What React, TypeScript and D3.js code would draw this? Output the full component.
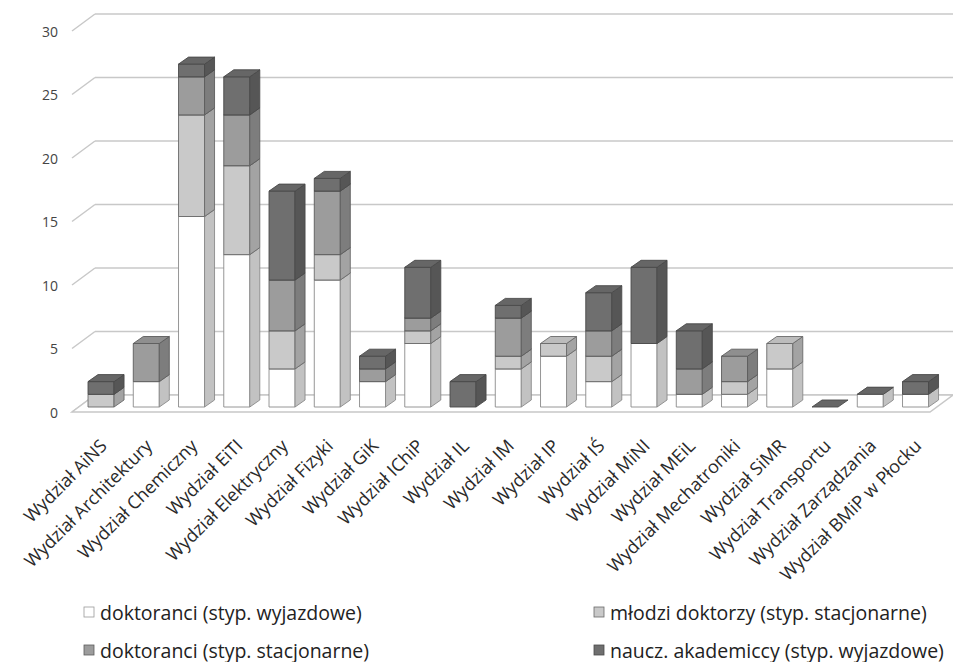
import React from "react";
import * as d3 from "d3";

const categories = [
  "Wydział AiNS", "Wydział Architektury", "Wydział Chemiczny", "Wydział EiTI",
  "Wydział Elektryczny", "Wydział Fizyki", "Wydział GiK", "Wydział IChiP",
  "Wydział IL", "Wydział IM", "Wydział IP", "Wydział IŚ", "Wydział MiNI",
  "Wydział MEiL", "Wydział Mechatroniki", "Wydział SiMR", "Wydział Transportu",
  "Wydział Zarządzania", "Wydział BMiP w Płocku",
];

const doktoranciWyjazdowe: (number | null)[] = [null, 2, 15, 12, 3, 10, 2, 5, null, 3, 4, 2, 5, 1, 1, 3, null, 1, 1];
const mlodziDoktorzyStacjonarne: (number | null)[] = [1, null, 8, 7, 3, 2, null, 1, null, 1, 1, 2, null, null, 1, 2, null, null, null];
const doktoranciStacjonarne: (number | null)[] = [null, 3, 3, 4, 4, 5, 1, 1, null, 3, null, 2, null, 2, 2, null, null, null, null];
const nauczycieleWyjazdowe: (number | null)[] = [1, null, 1, 3, 7, 1, 1, 4, 2, 1, null, 3, 6, 3, null, null, 0, 0, 1];

const seriesNames = [
  "doktoranci (styp. wyjazdowe)",
  "młodzi doktorzy (styp. stacjonarne)",
  "doktoranci (styp. stacjonarne)",
  "naucz. akademiccy (styp. wyjazdowe)",
];
const yTicks = [0, 5, 10, 15, 20, 25, 30];

const seriesValues = [doktoranciWyjazdowe, mlodziDoktorzyStacjonarne, doktoranciStacjonarne, nauczycieleWyjazdowe];

const palette = [
  { front: "#ffffff", side: "#c2c2c2", top: "#f0f0f0", stroke: "#8a8a8a" },
  { front: "#c9c9c9", side: "#a3a3a3", top: "#bcbcbc", stroke: "#6a6a6a" },
  { front: "#9c9c9c", side: "#7d7d7d", top: "#8f8f8f", stroke: "#5c5c5c" },
  { front: "#6f6f6f", side: "#565656", top: "#666666", stroke: "#4a4a4a" },
];

const W = 953;
const H = 662;
const FONT = "'Open Sans', 'Noto Sans', sans-serif";

// geometry
const floorFrontY = 412;
const floorDX = 23;
const floorDY = -17;
const floorLeft = 72;
const floorRight = 930;
const barDX = 10;
const barDY = -7;
const barBaseY = 407;
const unit = 12.7;

export default function App() {
  const x = d3
    .scaleBand<string>()
    .domain(categories)
    .range([78.4, 78.4 + 19 * 45.25])
    .paddingInner(0.425)
    .paddingOuter(0.2125);

  const yFront = d3.scaleLinear().domain([0, 30]).range([floorFrontY, floorFrontY - 30 * unit]);
  const yBar = d3.scaleLinear().domain([0, 30]).range([barBaseY, barBaseY - 30 * unit]);
  const yBack = (v: number) => yFront(v) + floorDY;

  const bw = x.bandwidth();

  const bars: React.ReactNode[] = [];
  categories.forEach((c, i) => {
    const x0 = x(c)!;
    let cum = 0;
    seriesValues.forEach((vals, s) => {
      const v = vals[i];
      if (v === null) return;
      const yb = yBar(cum);
      const yt = yBar(cum + v);
      cum += v;
      const col = palette[s];
      const key = `${i}-${s}`;
      const topPts = `${x0},${yt} ${x0 + barDX},${yt + barDY} ${x0 + bw + barDX},${yt + barDY} ${x0 + bw},${yt}`;
      if (v > 0) {
        bars.push(
          <g key={key} strokeWidth={0.9} strokeLinejoin="round">
            <rect x={x0} y={yt} width={bw} height={yb - yt} fill={col.front} stroke={col.stroke} />
            <polygon
              points={`${x0 + bw},${yb} ${x0 + bw},${yt} ${x0 + bw + barDX},${yt + barDY} ${x0 + bw + barDX},${yb + barDY}`}
              fill={col.side}
              stroke={col.stroke}
            />
            <polygon points={topPts} fill={col.top} stroke={col.stroke} />
          </g>
        );
      } else {
        bars.push(
          <polygon key={key} points={topPts} fill={col.top} stroke={col.stroke} strokeWidth={0.9} />
        );
      }
    });
  });

  const legendItems = [
    { s: 0, mx: 84, tx: 100, y: 612 },
    { s: 1, mx: 594, tx: 610, y: 612 },
    { s: 2, mx: 84, tx: 100, y: 650 },
    { s: 3, mx: 594, tx: 610, y: 650 },
  ];

  return (
    <svg
      width={W}
      height={H}
      style={{ position: "absolute", left: 0, top: 0, background: "#fff" }}
      fontFamily={FONT}
    >
      {/* back wall gridlines */}
      {yTicks.map((t) => (
        <g key={t} stroke="#c8c8c8" strokeWidth={1.5} fill="none">
          <line x1={floorLeft + floorDX} x2={W + 20} y1={yBack(t)} y2={yBack(t)} />
          <line x1={floorLeft} y1={yFront(t)} x2={floorLeft + floorDX} y2={yBack(t)} />
        </g>
      ))}
      {/* floor */}
      <polygon
        points={`${floorLeft},${floorFrontY} ${floorRight},${floorFrontY} ${floorRight + floorDX},${floorFrontY + floorDY} ${floorLeft + floorDX},${floorFrontY + floorDY}`}
        fill="#ffffff"
        stroke="#c8c8c8"
        strokeWidth={1.5}
      />
      {/* tick labels */}
      {yTicks.map((t) => (
        <text
          key={t}
          x={58}
          y={yFront(t)}
          textAnchor="end"
          dominantBaseline="central"
          fontSize={14}
          fill="#444"
        >
          {t}
        </text>
      ))}
      {bars}
      {/* category labels */}
      {categories.map((c) => {
        const cx = x(c)! + bw / 2 + 7;
        const cy = 447;
        return (
          <text
            key={c}
            transform={`translate(${cx},${cy}) rotate(-45)`}
            textAnchor="end"
            fontSize={18}
            fill="#2a2a2a"
          >
            {c}
          </text>
        );
      })}
      {/* legend */}
      {legendItems.map((l) => (
        <g key={l.s}>
          <rect
            x={l.mx}
            y={l.y - 5}
            width={10}
            height={10}
            fill={palette[l.s].front}
            stroke={l.s === 0 ? "#999" : palette[l.s].stroke}
            strokeWidth={0.8}
          />
          <text x={l.tx} y={l.y} dominantBaseline="central" fontSize={19.5} fill="#222">
            {seriesNames[l.s]}
          </text>
        </g>
      ))}
    </svg>
  );
}
